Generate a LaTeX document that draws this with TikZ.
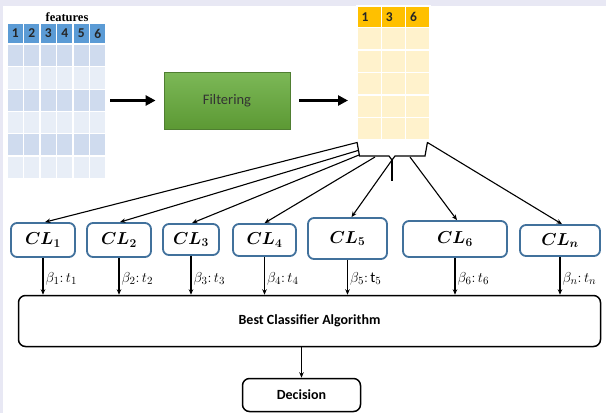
\documentclass[tikz,border=0pt]{standalone}
\usepackage{bm}
\usepackage{fontspec}
\setmainfont{Carlito}
\newfontfamily\serifb{Liberation Serif}
\usetikzlibrary{arrows.meta,calc}
\definecolor{lavbg}{HTML}{E8E8F4}
\definecolor{hdrblue}{HTML}{5B9BD5}
\definecolor{rowdark}{HTML}{CFDBEE}
\definecolor{rowlight}{HTML}{E8EEF7}
\definecolor{hdrorange}{HTML}{FFC000}
\definecolor{rowcream}{HTML}{FFF2CC}
\definecolor{greentop}{HTML}{7CB857}
\definecolor{greenbot}{HTML}{5C9934}
\definecolor{greenline}{HTML}{4F7E31}
\definecolor{clblue}{HTML}{41719C}
\tikzset{
  cell/.style={draw=white, line width=1.2pt},
  hdrtxt/.style={font=\fontsize{13.5}{14}\selectfont\bfseries, text=black!85, inner sep=0pt},
  bigarrow/.style={line width=2.6pt, -{Triangle[length=10pt,width=10pt]}},
  arr/.style={line width=1.1pt, -{Stealth[length=5.5pt,width=4.5pt]}},
  clbox/.style={draw=clblue, line width=1.8pt, rounded corners=6pt, fill=white, inner sep=0pt, font=\fontsize{16.5}{17}\selectfont},
  blackbox/.style={draw=black, line width=1.5pt, rounded corners=7pt, fill=white, inner sep=0pt, font=\fontsize{14}{15}\selectfont\bfseries},
  wlabel/.style={anchor=west, inner sep=0pt, font=\fontsize{15}{16}\selectfont}
}
\begin{document}
\begin{tikzpicture}[x=1pt,y=-1pt]
\useasboundingbox (0,0) rectangle (606,413);
\fill[white] (0,0) rectangle (606,413);
\fill[lavbg] (0,0) rectangle (606,5.5);
\fill[lavbg] (0,0) rectangle (3,413);

% left table
\node[font=\serifb\fontsize{12.5}{13}\selectfont\bfseries, inner sep=0pt] (feat) at (67,17) {features};
\foreach \c in {0,...,5} {
  \fill[hdrblue, cell] (7+16.5*\c,23) rectangle ++(16.5,20.5);
  \pgfmathtruncatemacro\lab{\c+1}
  \node[hdrtxt] (lh\c) at (7+16.5*\c+8.25,33.5) {\lab};
  \foreach \r in {0,...,5} {
    \pgfmathsetmacro\isodd{mod(\r,2)}
    \ifdim\isodd pt=0pt
      \fill[rowdark, cell] (7+16.5*\c,44.5+22.3*\r) rectangle ++(16.5,22.3);
    \else
      \fill[rowlight, cell] (7+16.5*\c,44.5+22.3*\r) rectangle ++(16.5,22.3);
    \fi
  }
}
\node[inner sep=0pt, minimum width=99pt, minimum height=155pt, anchor=north west] (ltab) at (7,23) {};

% filtering
\node[draw=greenline, line width=0.8pt, top color=greentop, bottom color=greenbot,
      minimum width=126pt, minimum height=57pt, inner sep=0pt,
      font=\fontsize{14.5}{15}\selectfont, text=black!80] (filt) at (227,100.5) {Filtering};

% right table
\foreach \c/\lab in {0/1,1/3,2/6} {
  \fill[hdrorange, cell] (357+24.33*\c,6) rectangle ++(24.33,21.5);
  \node[hdrtxt] (rh\c) at (357+24.33*\c+8,17) {\lab};
  \foreach \r in {0,...,4} {
    \fill[rowcream, cell] (357+24.33*\c,27.5+22.5*\r) rectangle ++(24.33,22.5);
  }
}
\node[inner sep=0pt, minimum width=73pt, minimum height=134pt, anchor=north west] (rtab) at (357,6) {};

\draw[bigarrow, shorten <=4pt, shorten >=8pt] (ltab.east |- filt.west) -- (filt.west);
\draw[bigarrow, shorten <=9pt, shorten >=9pt] (filt.east) -- (rtab.west |- filt.east);

% brace
\draw[line width=1.2pt, line join=miter] (357,142) -- (359.5,156) -- (389,156) -- (392,160) -- (395,156) -- (425,156) -- (427.5,142);
\coordinate (btip) at (392,160);
\coordinate (bend) at (392,181);
\draw[line width=1.2pt] (btip) -- (bend);
\coordinate (b1) at (357,142.5);
\coordinate (b2) at (358,150.5);
\coordinate (b3) at (359,155);
\coordinate (b4) at (375,157);
\coordinate (b5) at (392,160);
\coordinate (b6) at (410,157);
\coordinate (b7) at (427.5,142.5);

% classifier boxes
\node[clbox, minimum width=64pt, minimum height=34pt] (cl1) at (43,240) {$\bm{CL_1}$};
\node[clbox, minimum width=64pt, minimum height=34pt] (cl2) at (119,240) {$\bm{CL_2}$};
\node[clbox, minimum width=56pt, minimum height=31pt] (cl3) at (191,239.5) {$\bm{CL_3}$};
\node[clbox, minimum width=63pt, minimum height=32pt] (cl4) at (264.5,240) {$\bm{CL_4}$};
\node[clbox, minimum width=79pt, minimum height=41pt] (cl5) at (347.5,238.5) {$\bm{CL_5}$};
\node[clbox, minimum width=104pt, minimum height=36pt] (cl6) at (455,239) {$\bm{CL_6}$};
\node[clbox, minimum width=80pt, minimum height=31pt] (cln) at (560,240.5) {$\bm{CL_n}$};

\draw[arr] (b1) -- ([xshift=2pt]cl1.north);
\draw[arr] (b2) -- ([xshift=1pt]cl2.north);
\draw[arr] (b3) -- ([xshift=1pt]cl3.north);
\draw[arr] (b4) -- (cl4.north);
\draw[arr] (b5) -- ([xshift=4pt]cl5.north);
\draw[arr] (b6) -- ([xshift=2pt]cl6.north);
\draw[arr] (b7) -- ([xshift=2pt]cln.north);

% best classifier and decision
\node[blackbox, minimum width=582pt, minimum height=51pt] (best) at (309.5,321) {Best Classifier Algorithm};
\node[blackbox, minimum width=118pt, minimum height=33pt] (dec) at (301.5,395) {Decision};

\foreach \n/\lab in {cl1/{\beta_1{:}\,t_1}, cl2/{\beta_2{:}\,t_2}, cl3/{\beta_3{:}\,t_3}, cl4/{\beta_4{:}\,t_4}, cl5/{\beta_5{:}\,\mathrm{t}_5}, cl6/{\beta_6{:}\,t_6}, cln/{\beta_n{:}\,t_n}} {
  \draw[arr] (\n.south) -- (\n.south |- best.north);
  \coordinate (tmp-\n) at ([xshift=2.5pt]\n.south);
  \node[wlabel, yshift=16pt] (lbl-\n) at (tmp-\n |- best.north) {$\lab$};
}
\draw[arr] (dec.north |- best.south) -- (dec.north);
\end{tikzpicture}
\end{document}
